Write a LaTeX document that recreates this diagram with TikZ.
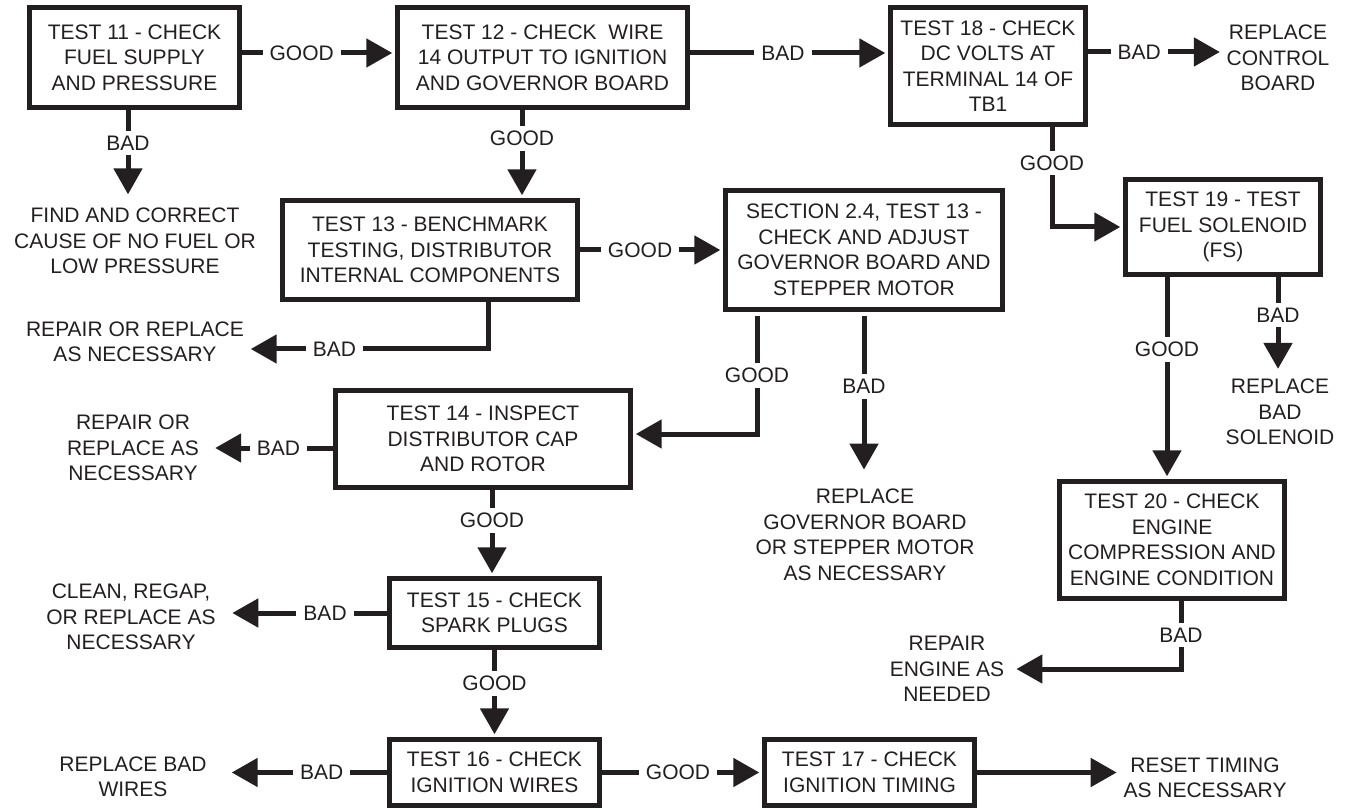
\documentclass[tikz,border=0pt]{standalone}
\usepackage{fontspec}
\setmainfont{Liberation Sans}
\usetikzlibrary{arrows.meta,positioning}
\definecolor{Ink}{HTML}{231F20}
\newcommand\diagfont{\fontsize{21}{25.5}\selectfont}

\begin{document}
\begin{tikzpicture}[x=1pt,y=-1pt,font=\diagfont,text=Ink,
    test/.style={draw=Ink,line width=5.2pt,align=center,inner sep=0pt},
    fix/.style={align=center,inner sep=4pt},
    lbl/.style={fill=white,inner xsep=7pt,inner ysep=5pt},
    arr/.style={-{Triangle[length=26pt,width=28pt]},draw=Ink,line width=5pt,shorten >=2.6pt}
  ]
    \useasboundingbox (0,0) rectangle (1350,810);
    % test boxes
    \node[test,minimum width=210,minimum height=100] (t11) at (134.5,57.5) {TEST 11 - CHECK\\FUEL SUPPLY\\AND PRESSURE};
    \node[test,minimum width=290,minimum height=100] (t12) at (542.5,57.5) {TEST 12 - CHECK\ \ WIRE\\14 OUTPUT TO IGNITION\\AND GOVERNOR BOARD};
    \node[test,minimum width=195,minimum height=117] (t18) at (988,66) {TEST 18 - CHECK\\DC VOLTS AT\\TERMINAL 14 OF\\TB1};
    \node[test,minimum width=295,minimum height=99] (t13) at (430,250) {TEST 13 - BENCHMARK\\TESTING, DISTRIBUTOR\\INTERNAL COMPONENTS};
    \node[test,minimum width=277,minimum height=119] (sec) at (864,250) {SECTION 2.4, TEST 13 -\\CHECK AND ADJUST\\GOVERNOR BOARD AND\\STEPPER MOTOR};
    \node[test,minimum width=195,minimum height=95] (t19) at (1223,227) {TEST 19 - TEST\\FUEL SOLENOID\\(FS)};
    \node[test,minimum width=295,minimum height=97] (t14) at (483,439) {TEST 14 - INSPECT\\DISTRIBUTOR CAP\\AND ROTOR};
    \node[test,minimum width=210,minimum height=69] (t15) at (494.5,613) {TEST 15 - CHECK\\SPARK PLUGS};
    \node[test,minimum width=210,minimum height=66] (t16) at (494.5,772.5) {TEST 16 - CHECK\\IGNITION WIRES};
    \node[test,minimum width=210,minimum height=66] (t17) at (869.5,772.5) {TEST 17 - CHECK\\IGNITION TIMING};
    \node[test,minimum width=225,minimum height=117] (t20) at (1172,540) {TEST 20 - CHECK\\ENGINE\\COMPRESSION AND\\ENGINE CONDITION};
    % outcomes
    \node[fix] (fuel) at (135,241) {FIND AND CORRECT\\CAUSE OF NO FUEL OR\\LOW PRESSURE};
    \node[fix] (ctrl) at (1278,58) {REPLACE\\CONTROL\\BOARD};
    \node[fix] (rep13) at (135,342) {REPAIR OR REPLACE\\AS NECESSARY};
    \node[fix] (rep14) at (133,448) {REPAIR OR\\REPLACE AS\\NECESSARY};
    \node[fix] (gov) at (865,535) {REPLACE\\GOVERNOR BOARD\\OR STEPPER MOTOR\\AS NECESSARY};
    \node[fix] (sol) at (1280,412) {REPLACE\\BAD\\SOLENOID};
    \node[fix] (eng) at (947,669) {REPAIR\\ENGINE AS\\NEEDED};
    \node[fix] (plug) at (131,617) {CLEAN, REGAP,\\OR REPLACE AS\\NECESSARY};
    \node[fix] (wire) at (133,777) {REPLACE BAD\\WIRES};
    \node[fix] (timing) at (1205,778) {RESET TIMING\\AS NECESSARY};
    % top row
    \draw[arr] ([yshift=4.5pt]t11.east) -- node[lbl,pos=.39]{GOOD} ([yshift=4.5pt]t11.east -| t12.west);
    \draw[arr] ([yshift=4.5pt]t12.east) -- node[lbl,pos=.47]{BAD} ([yshift=4.5pt]t12.east -| t18.west);
    \draw[arr] ([yshift=14pt]t18.east) -- node[lbl,pos=.38]{BAD} ([yshift=14pt]t18.east -| ctrl.west);
    \draw[arr,shorten >=9.5pt] ([xshift=-6.5pt]t11.south) -- node[lbl,pos=.35]{BAD} ([xshift=-6.5pt]t11.south |- fuel.north);
    \draw[arr] ([xshift=-20.5pt]t12.south) -- node[lbl,pos=.32]{GOOD} ([xshift=-20.5pt]t12.south |- t13.north);
    \draw[arr] ([xshift=64pt]t18.south) |- node[lbl,pos=.18]{GOOD} (t19.west);
    % middle
    \draw[arr] (t13) -- node[lbl,pos=.42]{GOOD} (sec);
    \draw[arr] ([xshift=58pt]t13.south) |- node[lbl,pos=.82]{BAD} ([yshift=-7pt]rep13.east);
    \draw[arr,shorten <=4pt] ([xshift=-107pt]sec.south) |- node[lbl,pos=.26]{GOOD} ([yshift=5pt]t14.east);
    \draw[arr,shorten <=4pt,shorten >=15.5pt] (sec.south) -- node[lbl,pos=.43]{BAD} (sec.south |- gov.north);
    \draw[arr] ([xshift=-56pt]t19.south) -- node[lbl,pos=.36]{GOOD} ([xshift=-56pt]t19.south |- t20.north);
    \draw[arr,shorten >=6pt] ([xshift=55pt]t19.south) -- node[lbl,pos=.39]{BAD} ([xshift=55pt]t19.south |- sol.north);
    \draw[arr,shorten >=8pt] ([xshift=9pt]t20.south) |- node[lbl,pos=.25]{BAD} (eng.east);
    \draw[arr,shorten >=12pt] (t14.west |- rep14) -- node[lbl,pos=.42]{BAD} (rep14.east);
    \draw[arr] ([xshift=9pt]t14.south) -- node[lbl,pos=.35]{GOOD} ([xshift=9pt]t14.south |- t15.north);
    % bottom
    \draw[arr,shorten >=12.5pt] (t15.west) -- node[lbl,pos=.37]{BAD} (t15.west -| plug.east);
    \draw[arr] (t15) -- node[lbl,pos=.38]{GOOD} (t16);
    \draw[arr,shorten >=21pt] (t16.west) -- node[lbl,pos=.37]{BAD} (t16.west -| wire.east);
    \draw[arr] (t16) -- node[lbl,pos=.475]{GOOD} (t17);
    \draw[arr] (t17.east) -- (t17.east -| timing.west);
  \end{tikzpicture}
\end{document}
